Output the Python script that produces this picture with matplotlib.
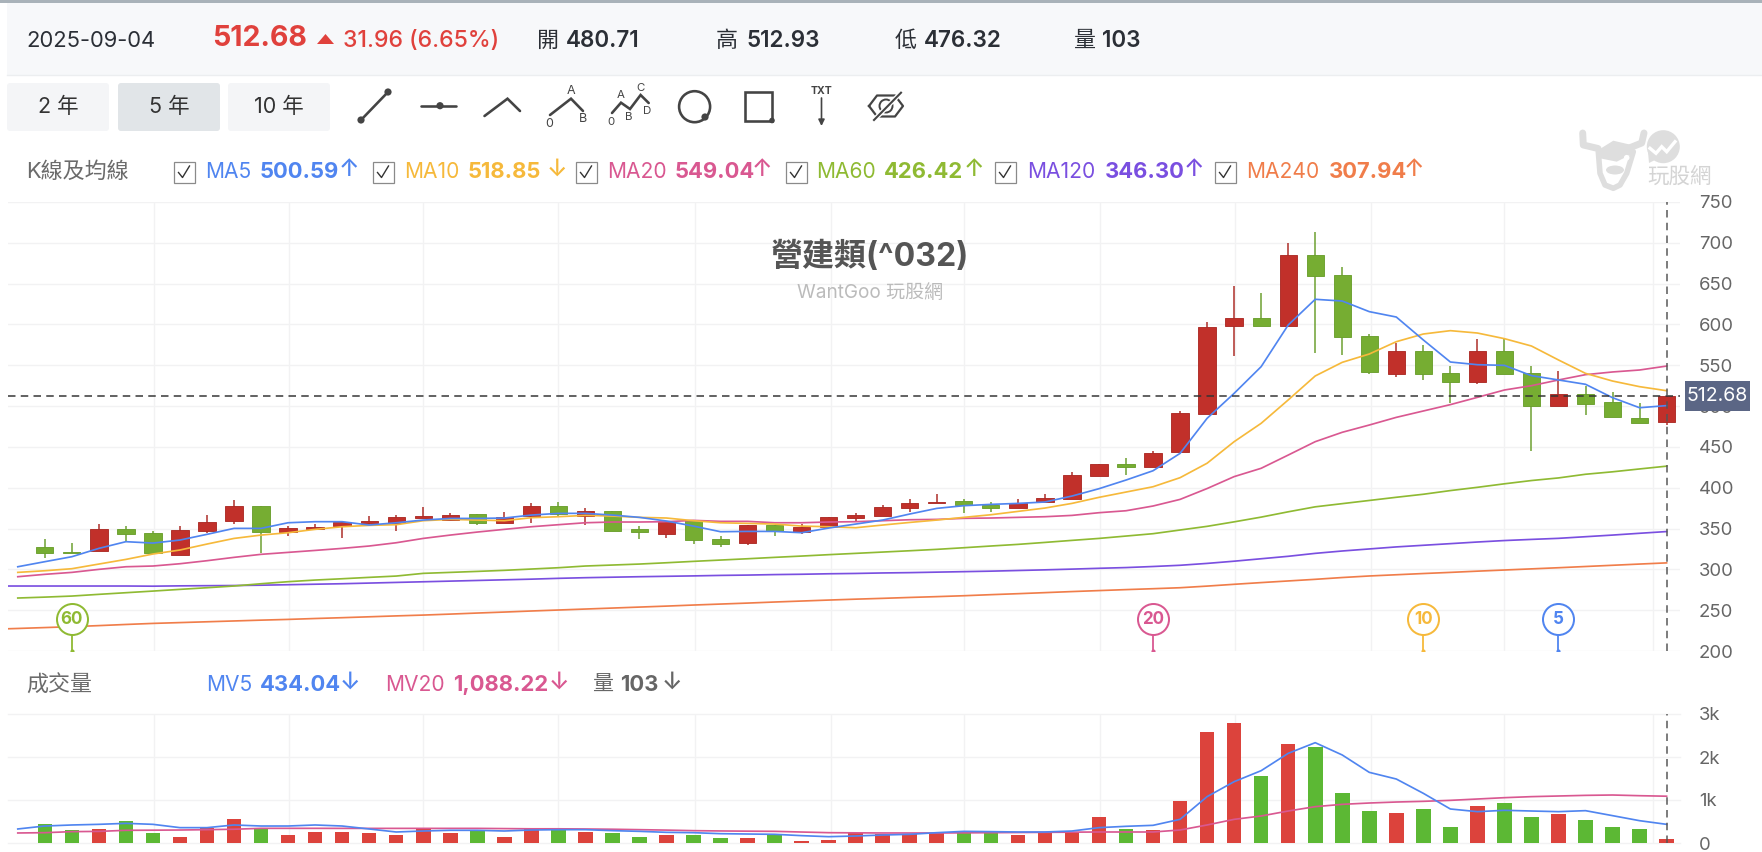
import matplotlib
matplotlib.use("Agg")
import matplotlib.pyplot as plt
from matplotlib.patches import FancyBboxPatch, Rectangle, Circle, Ellipse, Polygon
import numpy as np

plt.rcParams['font.family'] = ['Inter', 'Noto Sans CJK TC', 'DejaVu Sans']

# ---- daily quotes, oldest first: top of body, bottom of body, high, low, rising?
body_top = [327,321,350,350,344.5,348,358.4,377.6,377.6,350.6,352,358.4,358.8,364.5,365,366,367.8,363.7,378,378,372,
            371.8,349,358,360,337,354.3,354,351.4,364,366.1,376,381.6,382.5,384,378.4,381.6,387.8,415,429,429,442.5,492,
            597.3,607.5,607.5,685.5,685.5,660,585.9,567.9,567.9,541,567.9,567.9,540.5,514.8,514.8,505,485.4,512.68]
body_bot = [319.6,319.6,322,343,320,318,347.3,359,346,345.7,349,353,357,357,362.9,361,357,357,365.3,367.8,365.3,
            347.3,345.7,343.3,336,331.4,331.8,347.3,346,352,362.9,365.3,375,380.8,379,374.7,375,382.5,386.5,414.3,425.7,425.7,443.8,
            490.7,598.5,598.5,598.5,659.4,584.6,541.4,539.3,539.7,530,529.5,539.7,500.5,500.5,503,486.6,478.9,480.71]
highs = [337,331.8,355,353,347,353,366.5,384.5,377.6,353,356,359,365.3,366,376.3,368.6,367.8,370.6,380.8,382.4,374.7,
         371.8,353,358,360,340.8,354.3,354,355,364,368.6,378.4,385.7,391.8,385.7,382.5,385.7,391.8,419.6,429,437,445,494,
         603.4,647,639,699.4,713.7,670,588.3,577.7,574.4,548.7,582,582,548.7,542.6,525,517,503.4,512.93]
lows = [313.5,319.6,322,334,320,318,344,355,319.6,340.8,348,339,353.9,347.3,362.9,360.4,354.3,357,357,365.3,354.3,
        347.3,337.5,339,331,327.7,329.4,341.2,343.3,352,358.4,365.3,370.2,380.8,368.6,370.6,375,382.5,386.5,414.3,416,425.7,443.8,
        490.7,561.4,598.5,598.5,564.6,563,539.7,535.2,531.6,503.4,527.5,539.7,445.4,500.5,488.7,486.6,478.9,476.32]
rising = [0,0,1,0,0,1,1,1,0,1,1,1,1,1,1,1,0,1,1,0,1,
          0,0,1,0,0,1,0,1,1,1,1,1,1,0,0,1,1,1,1,0,1,1,
          1,1,0,1,0,0,0,1,0,0,1,0,0,1,0,0,0,1]
volume = [442,302,333,519,225,147,341,558,357,186,256,256,225,186,333,225,302,147,318,302,256,
          225,147,186,186,109,109,186,39,70,225,209,209,225,225,225,186,240,240,597,333,302,969,
          2574,2790,1566,2310,2240,1155,744,705,783,372,860,930,597,674,527,372,333,103]

# moving averages; the first entry of each belongs to the session before the first candle
ma5 = [303.2,309.4,315.5,325.7,333.9,332.2,335.9,342.9,350.2,350.2,357.1,358.4,358.4,354.3,357.1,360.4,362.4,362.4,362.9,366.5,368.6,368.6,
       366.5,363.7,359.2,353,346.1,346.5,346.5,344.9,350.6,355.5,360.4,367.8,374.7,378,379.6,380.8,382.5,389.8,398.8,409.4,420.8,442.1,
       485,515.6,548.3,599.3,630.8,628.7,615.7,609.1,581,554,550.7,549.9,537.3,532,526.7,510.3,498,500.59]
ma10 = [296.3,298.3,300.8,306.5,312.2,318.8,323.7,331,337.9,342,344.9,349,352.2,353.9,354.7,359.6,361.2,360.4,359.6,363.3,364.5,366.1,
        365.3,363.7,362.9,359.6,357.1,356.3,355.5,353,352.2,351,354.3,357.5,360.4,363.7,366.9,371,375.1,380.8,388.2,394.7,401.2,412.3,
        430,456.4,478.9,507.5,536.9,553.6,563.8,578.9,588.3,592.4,589.5,582.6,573.6,556.5,540.1,530.7,523.8,518.85]
ma20 = [291,293.9,296.3,300,303.2,304.1,306.9,310.6,314.7,318.4,320.8,323.2,325.7,328.6,332.6,337.9,342,345.7,349,352.2,354.7,357.1,
        358,358,358.4,360,358.8,358.8,357.1,357.1,358,358.4,359.6,360.8,361.2,362.5,362.9,363.7,364.5,366.1,369.4,371.8,377.6,385.7,
        399,413.6,423.8,440,456.4,467.9,476.8,486.2,494,501.8,510.7,519.7,525,532,538.5,541.8,544.2,549.04]
ma60 = [264.9,266,267.3,269.4,271.4,273.4,275.5,277.5,279.6,282.4,284.9,286.9,288.5,290.2,291.8,295.1,296.3,297.5,298.8,300.4,302,304.1,
        305.3,306.5,308.1,309.8,311.4,313,314.7,316.3,318,319.6,321.2,322.8,324.5,326.5,328.6,330.6,333,335.5,337.9,340.8,343.7,348.2,
        352.7,358.2,364,370.5,376.6,380.5,384.4,388.3,392,396.5,400.5,404.8,408.8,412,416.5,419.5,423,426.42]
# the two long averages also run in from two sessions back
ma120 = [279.6,279.6,279.6,279.6,279.6,279.6,279.4,279.8,280,280.2,280.6,281.2,281.8,282.4,283.2,284,284.8,285.6,286.4,287.2,288,289,289.8,
         290.4,291,291.5,292,292.6,293,293.6,294,294.6,295,295.6,296,296.6,297.2,297.8,298.6,299.4,300.3,301.3,302.2,303.5,305,
         307.3,310,313,316,319.6,322.5,325,327.5,329.5,331.5,333.5,335.3,336.7,338,340,342,344.2,346.3]
ma240 = [226.6,227.6,228.7,229.8,231.1,232.5,233.8,234.8,235.8,236.8,237.8,238.7,239.8,240.8,241.9,243,244,245.2,246.5,247.7,249,250.2,251.4,
         252.6,253.8,255,256.3,257.5,258.7,260,261.2,262.4,263.5,264.5,265.6,266.6,267.7,269,270.2,271.5,272.8,274,275.2,276.3,277.5,
         279.5,281.7,283.8,285.8,287.8,290,291.9,293.4,294.9,296.3,297.8,299.2,300.6,302,303.5,305,306.5,307.94]
mv5 = [326,395,419,434,457,434,357,357,419,395,395,419,395,326,256,279,295,295,279,302,310,310,
       287,271,248,240,217,209,202,171,147,163,186,202,240,271,264,256,256,279,357,388,411,550,
       1078,1426,1682,2085,2333,2047,1643,1488,1155,791,729,760,744,729,752,636,519,434.04]
mv20 = [233,240,264,270,295,298,302,310,320,341,341,341,340,340,340,340,340,340,335,330,330,326,
        320,310,300,287,280,275,271,255,240,236,233,233,233,236,240,244,248,252,256,256,256,302,
        419,550,628,744,845,899,930,953,969,992,1023,1054,1078,1093,1108,1116,1100,1088.22]

price_ticks = [200,250,300,350,400,450,500,550,600,650,700,750]
volume_ticks = [0,1000,2000,3000]
volume_tick_labels = ['0','1k','2k','3k']
month_lines = [4.05,9.05,14,19,24.05,29.1,34,39.05,44.05,49.05,54,59.5]
last_close = 512.68
cross_badges = [(1,'60','#8fba33'),(41,'20','#d95891'),(51,'10','#f6b93b'),(56,'5','#5085f0')]

C_MA5, C_MA10, C_MA20, C_MA60, C_MA120, C_MA240 = '#5085f0','#f6b93b','#d95891','#8fba33','#7a4fe0','#f07d4a'

W, H = 1762, 852
fig = plt.figure(figsize=(W/100, H/100), dpi=100, facecolor='white')
px = 0.72  # points per pixel at this resolution

def panel(x0, y0, x1, y1):
    return fig.add_axes([x0/W, 1-y1/H, (x1-x0)/W, (y1-y0)/H])

# page furniture lives on a full-figure axes measured in pixels
bg = panel(0, 0, W, H)
bg.set_xlim(0, W); bg.set_ylim(H, 0); bg.axis('off')

def T(x, y, s, size, color='#333333', weight='normal', ha='left', ax=bg, z=5):
    return ax.text(x, y, s, fontsize=size*px, color=color, fontweight=weight, ha=ha, va='center', zorder=z)

bg.add_patch(Rectangle((0,0), W, 2.5, fc='#a9b2b9', ec='none'))
bg.add_patch(Rectangle((7,2.5), W-7, 72, fc='#f7f8fa', ec='none'))
bg.plot([7,W],[74.5,74.5], color='#eceef0', lw=1)

INK = '#2b2f36'
T(26,41,'2025-09-04',22,INK)
T(212,39,'512.68',28.5,'#e0413c','bold')
bg.add_patch(Polygon([[317,44],[334,44],[325.5,34]], fc='#e0413c', ec='none'))
T(343,41,'31.96 (6.65%)',23,'#e0413c','medium')
T(537,41,'開',22,INK); T(566,41,'480.71',22.5,INK,'semibold')
T(716,41,'高',22,INK); T(746,41,'512.93',22.5,INK,'semibold')
T(895,41,'低',22,INK); T(924,41,'476.32',22.5,INK,'semibold')
T(1074,41,'量',22,INK); T(1102,41,'103',22.5,INK,'semibold')

for x0, x1, lab, fc in [(7,109,'2 年','#f4f5f7'),(118,220,'5 年','#e1e5e8'),(228,330,'10 年','#f4f5f7')]:
    bg.add_patch(FancyBboxPatch((x0+3,86),x1-x0-6,42,boxstyle='round,pad=3',fc=fc,ec='none'))
    T((x0+x1)/2,107,lab,21.5,'#333333',ha='center')

# drawing-tool icons
ic = dict(color='#444444', lw=2.0*px*1.3, solid_capstyle='round', solid_joinstyle='miter')
def dot(x, y, r=3.6):
    bg.add_patch(Circle((x,y), r, fc='#444444', ec='none', zorder=4))
bg.plot([361,388],[120,92],**ic); dot(361,120); dot(388,92)
bg.plot([421,456],[105.7,105.7],**ic); dot(440,105.7)
bg.plot([484.5,507.5,520],[116,98.7,111],**ic)
bg.plot([550,571,583],[115,98.7,111],**ic)
for x,y,s in [(571,90.7,'A'),(549,124,'0'),(582.7,119,'B')]:
    T(x,y,s,12.5,'#444444',ha='center')
bg.plot([612,621,630,640.6,648.7],[113,102.7,109,95,103],**ic)
for x,y,s in [(621,95,'A'),(640.6,87.7,'C'),(611,121.7,'0'),(629,116.7,'B'),(647.5,110.7,'D')]:
    T(x,y,s,11.5,'#444444',ha='center')
bg.add_patch(Circle((694.6,106.7),15.5,fc='none',ec='#444444',lw=2.0*px*1.3)); dot(705,117)
bg.add_patch(Rectangle((745,92),27,28.5,fc='none',ec='#444444',lw=2.0*px*1.3)); dot(772,120.5,2.8)
T(821.5,91.3,'TXT',10.5,'#444444','bold',ha='center')
bg.annotate('',xy=(821.5,126),xytext=(821.5,98),arrowprops=dict(arrowstyle='-|>',color='#444444',lw=1.2,mutation_scale=9,shrinkA=0,shrinkB=0))
bg.plot([869,877,895,903,895,877,869],[106,95.5,95.5,106,116.5,116.5,106],color='#444444',lw=1.6,solid_joinstyle='round')
bg.add_patch(Circle((886,106),6.5,fc='none',ec='#444444',lw=1.4))
bg.plot([874,901],[120,92.7],color='white',lw=3.4)
bg.plot([874,901],[120,92.7],color='#444444',lw=1.5)

# indicator legend rows
T(26,172,'K線及均線',22,'#6b6b6b')
legend_rows = [(173,205.5,260,349,'MA5','500.59','↑',C_MA5),(372,404,468,557,'MA10','518.85','↓',C_MA10),
               (575,607,674.5,762,'MA20','549.04','↑',C_MA20),(785,816,884,974,'MA60','426.42','↑',C_MA60),
               (994,1027,1104.5,1193.6,'MA120','346.30','↑',C_MA120),(1214,1246.6,1329,1414,'MA240','307.94','↑',C_MA240)]
for bx, tx, vx_, ax_, name, val, arr, col in legend_rows:
    bg.add_patch(Rectangle((bx+.5,161.5),21.5,21,fc='white',ec='#8a8a8a',lw=0.9))
    bg.plot([bx+5.5,bx+9.5,bx+16.5],[172.5,177.5,166],color='#333333',lw=1.0)
    T(tx,172,name,21,col)
    T(vx_,172,val,22,col,'bold')
    T(ax_,170,arr,24,col,'medium',ha='center')

T(26,685,'成交量',22,'#6b6b6b')
T(206,685,'MV5',21,C_MA5); T(260,685,'434.04',22,C_MA5,'bold'); T(350,683,'↓',24,C_MA5,'medium',ha='center')
T(385,685,'MV20',21,C_MA20); T(452.7,685,'1,088.22',22,C_MA20,'bold'); T(558.7,683,'↓',24,C_MA20,'medium',ha='center')
T(592,685,'量',21,'#666666'); T(620,685,'103',22,'#666666','bold'); T(672,683,'↓',24,'#666666','medium',ha='center')

# grey bull-head watermark, top right
wm = '#dedede'
bg.add_patch(Circle((1663.3,146.7),16.5,fc=wm,ec='none'))
bg.add_patch(Polygon([[1648,152],[1655,160],[1649,163]],fc=wm,ec='none'))
bg.plot([1650,1656,1661.7,1666.7,1675],[148.3,153.3,146.7,151.7,141.7],color='white',lw=2.4,solid_joinstyle='miter')
bg.plot([1582.7,1583.3,1598],[133,145,148.5],color=wm,lw=5,solid_capstyle='round')
bg.plot([1644,1641.7,1628],[133,143,148.5],color=wm,lw=5,solid_capstyle='round')
bg.add_patch(Polygon([[1598.3,151.7],[1633.3,151.7],[1626.7,173.3],[1620,185],[1613.3,188.3],[1605,185],[1600,173.3]],
                     fc='white',ec=wm,lw=4,joinstyle='round'))
bg.add_patch(Polygon([[1598.3,150],[1613.3,140.7],[1631.7,145],[1633.3,153.3],[1616.7,161.7],[1600,158.3]],fc=wm,ec='none'))
bg.add_patch(Circle((1626.7,157.7),2.8,fc='white',ec='none'))
bg.add_patch(Ellipse((1615,170),18,9,fc=wm,ec='none'))
T(1647,177,'玩股網',21.5,'#d4d4d4')

# ---- price panel
xs = np.arange(len(body_top))
ax = panel(8, 202, 1680, 651)
ax.patch.set_alpha(0)
xleft, xright = (8-44.8)/27.03, (1680-44.8)/27.03
ax.set_xlim(xleft, xright); ax.set_ylim(200, 750)
for s in ax.spines.values():
    s.set_visible(False)
ax.set_xticks([])
ax.yaxis.tick_right()
ax.set_yticks(price_ticks)
ax.tick_params(axis='y', length=0, pad=19*px, labelsize=18.5*px, labelcolor='#666666')
GRID = dict(color='#f2f2f3', lw=1.4*px, zorder=0)
for v in price_ticks:
    ax.axhline(v, **GRID)
for g in month_lines:
    ax.axvline(g, **GRID)

RED, GREEN, RED_W, GREEN_W = '#c1302a', '#76ad32', '#ac2a25', '#6a9f2d'
for i in xs:
    col = RED if rising[i] else GREEN
    wick = RED_W if rising[i] else GREEN_W
    ax.vlines(i, lows[i], highs[i], color=wick, lw=1.5*px, zorder=2)
    h = max(body_top[i]-body_bot[i], 0.6)
    ax.bar(i, h, bottom=body_bot[i], width=0.64, color=col, edgecolor=wick, linewidth=0.9*px, zorder=3)

xs_ma = np.arange(-1, len(xs))
xs_long = np.arange(-2, len(xs))
LW = 1.7*px
ax.plot(xs_long, ma240, color=C_MA240, lw=LW, zorder=4)
ax.plot(xs_long, ma120, color=C_MA120, lw=LW, zorder=4)
ax.plot(xs_ma, ma60, color=C_MA60, lw=LW, zorder=4)
ax.plot(xs_ma, ma20, color=C_MA20, lw=LW, zorder=5)
ax.plot(xs_ma, ma10, color=C_MA10, lw=LW, zorder=5)
ax.plot(xs_ma, ma5, color=C_MA5, lw=LW, zorder=6)

# last close and session crosshair
ax.axhline(last_close, color='#333333', lw=1.5*px, dashes=(5, 3.5), zorder=7)
ax.axvline(60, color='#555555', lw=1.5*px, dashes=(5, 3.5), zorder=7)

# crossover badges pinned to the session they occurred on
for i, lab, col in cross_badges:
    ax.plot([i, i], [200, 239], color=col, lw=1.8*px, zorder=8)
    ax.plot([i], [200.5], marker='o', ms=3, color=col, mec='none', zorder=8)
    ax.plot([i], [239], marker='o', ms=31*px, mfc='white', mec=col, mew=2*px, zorder=9, ls='none')
    ax.text(i, 239, lab, fontsize=17*px, fontweight='bold', color=col, ha='center', va='center', zorder=10)

# ---- volume panel
vx = panel(8, 714, 1680, 843)
vx.patch.set_alpha(0)
vx.set_xlim(xleft, xright); vx.set_ylim(0, 3000)
for s in vx.spines.values():
    s.set_visible(False)
vx.set_xticks([])
vx.yaxis.tick_right()
vx.set_yticks(volume_ticks); vx.set_yticklabels(volume_tick_labels)
vx.tick_params(axis='y', length=0, pad=19*px, labelsize=18.5*px, labelcolor='#666666')
for v in volume_ticks:
    vx.axhline(v, clip_on=False, **GRID)
for g in month_lines:
    vx.axvline(g, **GRID)
vx.bar(xs, volume, width=0.54, color=['#dc433c' if r else '#5cb834' for r in rising], zorder=3)
vx.plot(xs_ma, mv20, color=C_MA20, lw=LW, zorder=4)
vx.plot(xs_ma, mv5, color=C_MA5, lw=LW, zorder=5)
vx.axvline(60, color='#555555', lw=1.5*px, dashes=(5, 3.5), zorder=7)

# ---- title and close tag sit over everything
top = panel(0, 0, W, H)
top.set_xlim(0, W); top.set_ylim(H, 0); top.axis('off'); top.patch.set_alpha(0)
T(870,257,'營建類(^032)',32,'#555555','bold',ha='center',ax=top)
T(870,293,'WantGoo 玩股網',19,'#bbbbbb',ha='center',ax=top)
top.add_patch(Rectangle((1685,380.5),65,30,fc='#5b6685',ec='none',zorder=6))
T(1717.5,396,f'{last_close:.2f}',19.5,'white',ha='center',ax=top,z=7)

fig.savefig('out.png', dpi=100)
